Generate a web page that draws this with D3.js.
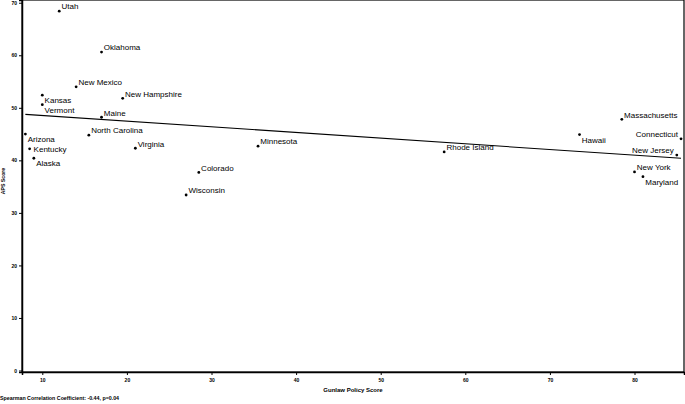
<!DOCTYPE html>
<html>
<head>
<meta charset="utf-8">
<script src="https://cdn.jsdelivr.net/npm/d3@7"></script>
<style>
  html, body { margin: 0; padding: 0; background: #fff; }
  svg { display: block; }
  text { font-family: "Liberation Sans", Arial, Helvetica, sans-serif; fill: #000; }
</style>
</head>
<body>
<svg id="chart" width="685" height="404"></svg>
<script>
// ---- data ----
const states = ["Utah","Oklahoma","New Mexico","Kansas","Vermont","New Hampshire","Maine",
  "North Carolina","Arizona","Kentucky","Alaska","Virginia","Colorado","Wisconsin","Minnesota",
  "Rhode Island","Hawaii","Massachusetts","Connecticut","New Jersey","New York","Maryland"];
const gunlawScore = [12.0,17.0,14.0,10.0,10.0,19.5,17.0,15.5,8.0,8.5,9.0,21.0,28.5,27.0,35.5,
  57.5,73.5,78.5,85.5,85.0,80.0,81.0];
const apsScore = [68.4,60.6,54.0,52.4,50.6,51.8,48.2,44.8,45.0,42.2,40.4,42.3,37.7,33.4,42.7,
  41.6,44.9,47.8,44.1,41.0,37.8,36.9];
const xTicks = [10,20,30,40,50,60,70,80];
const yTicks = [0,10,20,30,40,50,60,70];
const fitIntercept = 49.62;
const fitSlope = -0.1079;
const xTitle = "Gunlaw Policy Score";
const yTitle = "APS Score";
const caption = "Spearman Correlation Coefficient: -0.44, p=0.04";

// label placement (style only)
const placement = {
  "Kansas":"se","Vermont":"se","Arizona":"se","Alaska":"se","Hawaii":"se","Maryland":"se",
  "Kentucky":"e","Connecticut":"w","New Jersey":"w"
};

// ---- chart ----
const svg = d3.select("#chart");
const L = 22, R = 684, T = 0, B = 372;
const x = d3.scaleLinear().domain([7.6, 85.85]).range([L, R]);
const y = d3.scaleLinear().domain([-0.285, 70.52]).range([B, T]);

// frame
svg.append("rect").attr("x", L).attr("y", T).attr("width", R - L).attr("height", B - T)
  .attr("fill", "none").attr("stroke", "#000").attr("stroke-width", 1.2);

// axes
const xAxis = svg.append("g").attr("transform", `translate(0,${B})`)
  .call(d3.axisBottom(x).tickValues(xTicks).tickSize(3).tickPadding(3));
const yAxis = svg.append("g").attr("transform", `translate(${L},0)`)
  .call(d3.axisLeft(y).tickValues(yTicks).tickSize(3).tickPadding(2));
[xAxis, yAxis].forEach(g => {
  g.select(".domain").attr("stroke", "#000").attr("stroke-width", 1.5);
  g.selectAll(".tick line").attr("stroke", "#000").attr("stroke-width", 1);
  g.selectAll(".tick text").attr("font-size", 5).attr("font-weight", "bold")
    .style("font-family", '"Liberation Sans", Arial, sans-serif').attr("fill", "#000");
});

// regression line
const xr = d3.extent(gunlawScore);
svg.append("line")
  .attr("x1", x(xr[0])).attr("y1", y(fitIntercept + fitSlope * xr[0]))
  .attr("x2", x(xr[1])).attr("y2", y(fitIntercept + fitSlope * xr[1]))
  .attr("stroke", "#000").attr("stroke-width", 1.1);

// points
const pts = states.map((s, i) => ({ s, gx: gunlawScore[i], ay: apsScore[i] }));
svg.append("g").selectAll("circle").data(pts).join("circle")
  .attr("cx", d => x(d.gx)).attr("cy", d => y(d.ay)).attr("r", 1.4).attr("fill", "#000");

// labels
svg.append("g").selectAll("text").data(pts).join("text")
  .attr("font-size", 8)
  .attr("x", d => {
    const p = placement[d.s] || "ne";
    if (p === "w") return x(d.gx) - 3;
    if (p === "e") return x(d.gx) + 4;
    return x(d.gx) + 2.3;
  })
  .attr("y", d => {
    const p = placement[d.s] || "ne";
    if (p === "se") return y(d.ay) + 8;
    if (p === "e") return y(d.ay) + 3;
    return y(d.ay) - 1.7;
  })
  .attr("text-anchor", d => (placement[d.s] === "w" ? "end" : "start"))
  .text(d => d.s);

// titles
svg.append("text").attr("x", 353).attr("y", 392).attr("text-anchor", "middle")
  .attr("font-size", 6).attr("font-weight", "bold").text(xTitle);
svg.append("text").attr("transform", "translate(5,181) rotate(-90)").attr("text-anchor", "middle")
  .attr("font-size", 5.2).attr("font-weight", "bold").text(yTitle);
svg.append("text").attr("x", 0).attr("y", 400).attr("font-size", 5.3)
  .attr("font-weight", "bold").text(caption);
</script>
</body>
</html>
